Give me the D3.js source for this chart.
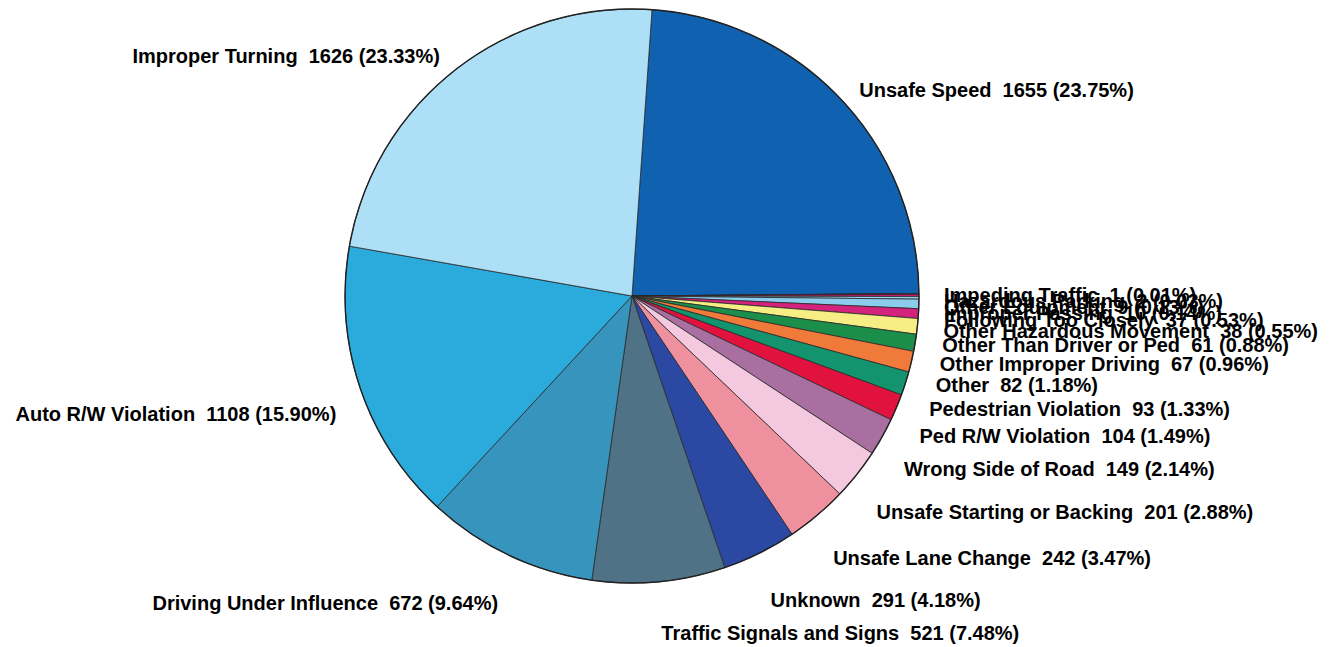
<!DOCTYPE html>
<html>
<head>
<meta charset="utf-8">
<script src="https://cdn.jsdelivr.net/npm/d3@7/dist/d3.min.js"></script>
<style>
  html, body { margin: 0; padding: 0; background: #ffffff; }
  svg { display: block; }
  .lbl { font-family: "Liberation Sans", Arial, sans-serif; font-weight: bold; font-size: 20px; fill: #000; white-space: pre; }
</style>
</head>
<body>
<svg id="chart" width="1338" height="647"></svg>
<script>
// Categories in drawing order (clockwise from the top)
const categories = [
  "Unsafe Speed",
  "Impeding Traffic",
  "Hazardous Parking",
  "Other Equipment",
  "Improper Passing",
  "Following Too Closely",
  "Other Hazardous Movement",
  "Other Than Driver or Ped",
  "Other Improper Driving",
  "Other",
  "Pedestrian Violation",
  "Ped R/W Violation",
  "Wrong Side of Road",
  "Unsafe Starting or Backing",
  "Unsafe Lane Change",
  "Unknown",
  "Traffic Signals and Signs",
  "Driving Under Influence",
  "Auto R/W Violation",
  "Improper Turning"
];
const values = [1655, 1, 2, 9, 10, 37, 38, 61, 67, 82, 93, 104, 149, 201, 242, 291, 521, 672, 1108, 1626];
const colors = [
  "#1161b1", "#2b4ea0", "#7fb8e0", "#c41c6c", "#9ad6f2",
  "#8ccdee", "#d3237c", "#f6ee84", "#1b8f4a", "#ef7a3a",
  "#14946e", "#e2123f", "#a86fa0", "#f4c8df", "#ef909f",
  "#2b48a2", "#4f7287", "#3794bd", "#2aabdc", "#ade0f6"
];

const W = 1338, H = 647;
const cx = 632, cy = 296, r = 287;
const startDeg = 4;
const total = d3.sum(values);

const svg = d3.select("#chart");
const data = categories.map((c, i) => ({ name: c, value: values[i], color: colors[i] }));

const pie = d3.pie()
  .value(d => d.value)
  .sort(null)
  .startAngle(startDeg * Math.PI / 180)
  .endAngle(startDeg * Math.PI / 180 + 2 * Math.PI);

const arcs = pie(data);
const arc = d3.arc().innerRadius(0).outerRadius(r);

const g = svg.append("g").attr("transform", `translate(${cx},${cy})`);

g.selectAll("path.slice")
  .data(arcs)
  .join("path")
  .attr("class", "slice")
  .attr("d", arc)
  .attr("fill", d => d.data.color)
  .attr("stroke", "#2a2a2a")
  .attr("stroke-width", 0.8)
  .attr("stroke-linejoin", "round");

g.append("circle")
  .attr("r", r)
  .attr("fill", "none")
  .attr("stroke", "#222")
  .attr("stroke-width", 1.4);

// Label layout: around an ellipse outside the pie, then a small collision pass
const lrx = r + 25, lry = r + 36, yShift = 15;
const fmt = d3.format(".2f");
const labels = arcs.map(a => {
  const m = (a.startAngle + a.endAngle) / 2;
  const s = Math.sin(m), c = Math.cos(m);
  return {
    text: `${a.data.name}  ${a.data.value} (${fmt(a.data.value / total * 100)}%)`,
    angle: m,
    right: s >= 0,
    x: cx + lrx * s,
    y: cy + yShift - lry * c
  };
});

const rightLabels = labels.filter(l => l.right).sort((a, b) => a.angle - b.angle);
for (let i = rightLabels.length - 2; i >= 0; i--) {
  if (rightLabels[i].angle > Math.PI / 4) {
    rightLabels[i].y = Math.min(rightLabels[i].y, rightLabels[i + 1].y - 6);
  }
}

svg.selectAll("text.lbl")
  .data(labels)
  .join("text")
  .attr("class", "lbl")
  .attr("x", d => d.x)
  .attr("y", d => d.y)
  .attr("dominant-baseline", "central")
  .attr("text-anchor", d => d.right ? "start" : "end")
  .text(d => d.text);
</script>
</body>
</html>
